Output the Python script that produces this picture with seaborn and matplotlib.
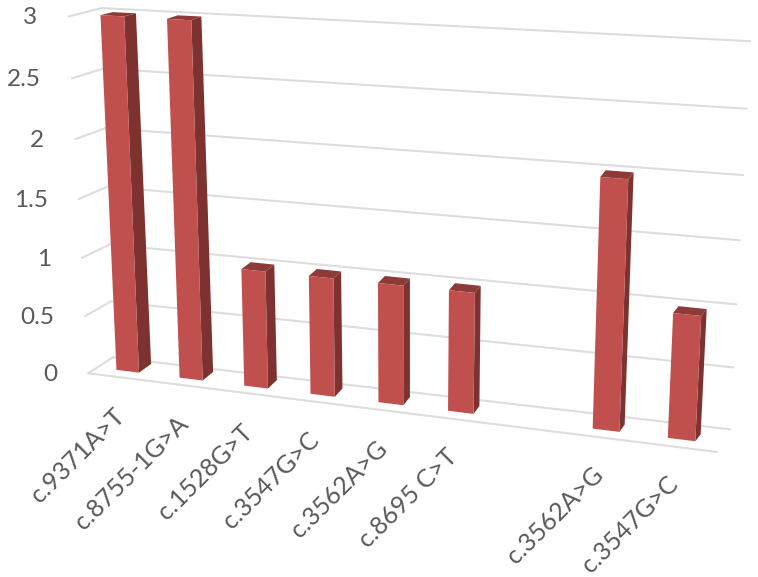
import numpy as np
import pandas as pd
import matplotlib
matplotlib.use("Agg")
import matplotlib.pyplot as plt
from matplotlib.transforms import Transform, Affine2D
import seaborn as sns

# chart data (slot 6 is the empty gap between the two groups)
labels = ['c.9371A>T', 'c.8755-1G>A', 'c.1528G>T', 'c.3547G>C', 'c.3562A>G', 'c.8695 C>T', 'c.3562A>G', 'c.3547G>C']
slots = [0, 1, 2, 3, 4, 5, 7, 8]
counts = [3, 3, 1, 1, 1, 1, 2, 1]
y_ticks = [0, 0.5, 1, 1.5, 2, 2.5, 3]
y_tick_labels = ['0', '0.5', '1', '1.5', '2', '2.5', '3']

BAR_W = 0.36
RED = '#C0504D'
SIDE = '#7D3230'
TOP = '#8E3A38'
GRID = '#DDDDDD'
TEXT = '#595959'

# camera calibration: (slot, value) -> pixel, measured on the picture
h = BAR_W / 2
front_refs = [
    (-h, 0, 117, 370), (h, 0, 139, 373), (-h, 3, 101, 15), (h, 3, 124, 16),
    (3 - h, 0, 310, 393), (3 + h, 0, 335, 397), (3 - h, 1, 308, 277), (3 + h, 1, 333, 278),
    (7 - h, 0, 593, 428), (7 + h, 0, 620, 432), (7 - h, 2, 601, 178), (7 + h, 2, 628, 180),
    (8 - h, 0, 668, 438), (8 + h, 0, 695, 442), (8 - h, 1, 673, 312), (8 + h, 1, 701, 315),
]
back_refs = [
    (h, 0, 151, 363), (-h, 3, 113, 12), (h, 3, 136, 13),
    (3 + h, 0, 343, 388), (3 - h, 1, 315, 270), (3 + h, 1, 342, 273),
    (7 + h, 0, 625, 425), (7 - h, 2, 607, 171), (7 + h, 2, 633, 172),
    (8 + h, 0, 701, 435), (8 - h, 1, 678, 305), (8 + h, 1, 706, 308),
]
wall_refs = [
    (-0.5, 3, 102, 8), (8.5, 3, 750, 41), (-0.5, 0, 113, 357), (8.5, 0, 730, 429),
    (8.5, 1, 737, 305), (8.5, 2, 743, 175), (-0.5, 2, 105, 128), (-0.5, 1, 109, 245),
]
edge_refs = [
    (-0.5, 3, 68, 16), (-0.5, 0, 88, 373), (8.5, 0, 717, 452), (8.5, 3, 728, 58),
    (-0.5, 2, 76, 140),
]


def fit_plane(refs):
    rows = []
    for x, v, px, py in refs:
        px, py = px / 100, py / 100
        rows.append([x, v, 1, 0, 0, 0, -px * x, -px * v, -px])
        rows.append([0, 0, 0, x, v, 1, -py * x, -py * v, -py])
    m = np.linalg.svd(np.array(rows))[2][-1].reshape(3, 3)
    return m


def project(m, x, v):
    x, v = np.asarray(x, float), np.asarray(v, float)
    w = m[2, 0] * x + m[2, 1] * v + m[2, 2]
    return np.stack([(m[0, 0] * x + m[0, 1] * v + m[0, 2]) / w * 100,
                     (m[1, 0] * x + m[1, 1] * v + m[1, 2]) / w * 100], axis=-1)


class PlaneTransform(Transform):
    input_dims = 2
    output_dims = 2
    is_affine = False

    def __init__(self, m):
        super().__init__()
        self.m = m

    def transform_non_affine(self, values):
        values = np.asarray(values)
        return project(self.m, values[:, 0], values[:, 1])


front = fit_plane(front_refs)
back = fit_plane(back_refs)
wall = fit_plane(wall_refs)
edge = fit_plane(edge_refs)

sns.set_style('white')
plt.rcParams['font.family'] = ['Lato', 'DejaVu Sans']

fig = plt.figure(figsize=(7.58, 5.77), dpi=100)
ax = fig.add_axes([0, 0, 1, 1])
pix = Affine2D().scale(1 / 758, -1 / 577).translate(0, 1) + fig.transFigure

df = pd.DataFrame({'slot': slots, 'count': counts})
sns.barplot(data=df, x='slot', y='count', native_scale=True, width=BAR_W, color=RED,
            saturation=1, ax=ax, zorder=4)
ax.set_xlim(-0.5, 8.5)
ax.set_ylim(0, 3)
ax.axis('off')

# gridlines on the back wall plus the short run along the side wall
for v in y_ticks:
    ax.plot([-0.5, 8.5], [v, v], color=GRID, lw=1.5, transform=PlaneTransform(wall) + pix,
            clip_on=False, zorder=1)
    a, b = project(edge, -0.5, v), project(wall, -0.5, v)
    ax.plot([a[0], b[0]], [a[1], b[1]], color=GRID, lw=1.5, transform=pix, clip_on=False, zorder=1)
ax.plot([-0.5, 8.5], [0, 0], color=GRID, lw=1.5, transform=PlaneTransform(edge) + pix,
        clip_on=False, zorder=1)

# 3D look: front face is the seaborn bar itself, side and top are built from its size
for bar in ax.patches:
    x0, x1, val = bar.get_x(), bar.get_x() + bar.get_width(), bar.get_height()
    bar.set_transform(PlaneTransform(front) + pix)
    bar.set_clip_on(False)
    bar.set_linewidth(0)
    side = np.array([project(front, x1, 0), project(back, x1, 0), project(back, x1, val), project(front, x1, val)])
    top = np.array([project(front, x0, val), project(front, x1, val), project(back, x1, val), project(back, x0, val)])
    ax.fill(side[:, 0], side[:, 1], color=SIDE, lw=0, transform=pix, clip_on=False, zorder=3)
    ax.fill(top[:, 0], top[:, 1], color=TOP, lw=0, transform=pix, clip_on=False, zorder=3)

for v, s in zip(y_ticks, y_tick_labels):
    px, py = project(edge, -0.5, v)
    ax.text(px - 31, py + 1, s, ha='right', va='center', fontsize=17.5, color=TEXT, transform=pix)

for x, s in zip(slots, labels):
    px, py = project(front, x, 0)
    ax.text(px - 7, py + 41, s, ha='right', va='center', rotation=45, rotation_mode='anchor',
            fontsize=18, color=TEXT, transform=pix)

fig.savefig('out.png', dpi=100)
